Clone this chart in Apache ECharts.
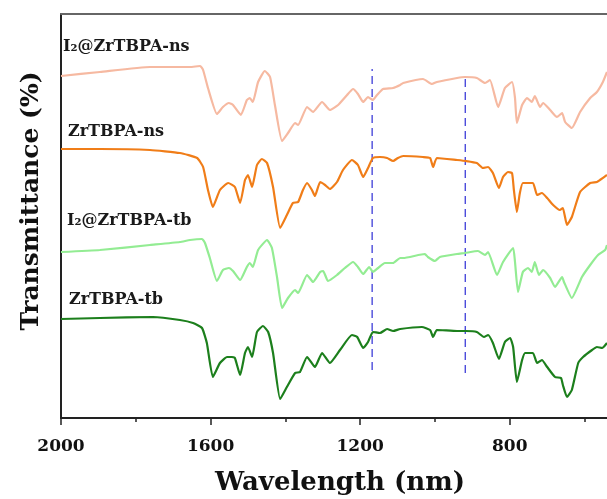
<!DOCTYPE html>
<html>
<head>
<meta charset="utf-8">
<script src="https://cdn.jsdelivr.net/npm/echarts@6/dist/echarts.min.js"></script>
<style>html,body{margin:0;padding:0;background:#fff}#c{width:607px;height:499px}</style>
</head>
<body>
<div id="c"></div>
<script>
// Wavenumber (axis labelled "Wavelength (nm)") vs. offset transmittance (arbitrary units)
const seriesNames = ['I\u2082@ZrTBPA-ns', 'ZrTBPA-ns', 'I\u2082@ZrTBPA-tb', 'ZrTBPA-tb'];
const seriesColors = ['#f6b9a1', '#f07d18', '#93ec93', '#1c7f1c'];

const i2ns = [[2000,342],[1896,346],[1762,351],[1655,351],[1628,352],[1620,348],[1607,330],[1583,304],[1567,311],[1551,315],[1540,313],[1519,303],[1503,318],[1495,320],[1487,316],[1473,336],[1455,347],[1441,341],[1428,313],[1409,277],[1393,285],[1374,295],[1366,293],[1342,311],[1326,306],[1302,316],[1281,308],[1259,313],[1235,323],[1219,329],[1206,324],[1192,316],[1179,321],[1166,318],[1155,323],[1139,329],[1112,330],[1093,333],[1085,335],[1032,339],[1008,334],[995,336],[941,340],[920,341],[888,340],[866,335],[853,338],[831,311],[813,330],[794,336],[786,320],[781,295],[767,313],[754,320],[741,316],[733,322],[719,311],[711,315],[692,308],[674,301],[660,305],[652,296],[634,290],[612,306],[585,320],[567,326],[551,336],[540,346]];

const zrns = [[2000,269],[1896,269],[1762,268],[1682,265],[1636,260],[1620,251],[1607,228],[1594,211],[1575,228],[1553,235],[1535,231],[1521,215],[1508,238],[1500,243],[1489,231],[1476,253],[1463,259],[1449,255],[1433,231],[1414,190],[1396,203],[1380,215],[1366,216],[1353,228],[1342,235],[1329,228],[1321,222],[1307,236],[1294,233],[1281,229],[1262,236],[1246,248],[1222,258],[1206,253],[1192,241],[1179,250],[1166,260],[1147,261],[1128,260],[1112,257],[1099,260],[1085,262],[1032,261],[1013,260],[1005,251],[995,260],[941,258],[917,257],[888,255],[872,250],[858,251],[845,245],[829,230],[818,241],[805,246],[794,245],[789,228],[781,206],[773,225],[765,235],[738,235],[727,223],[714,225],[700,220],[684,213],[666,208],[658,210],[647,193],[634,201],[612,226],[585,235],[567,236],[559,238],[540,243]];

const i2tb = [[2000,166],[1896,168],[1762,173],[1682,176],[1655,178],[1623,179],[1615,175],[1602,160],[1583,137],[1567,148],[1551,150],[1540,147],[1521,138],[1503,151],[1495,155],[1487,151],[1473,168],[1449,178],[1436,170],[1422,140],[1409,110],[1393,120],[1374,128],[1366,125],[1342,143],[1326,136],[1307,146],[1299,147],[1286,137],[1262,143],[1241,150],[1219,156],[1206,151],[1192,144],[1176,151],[1166,146],[1152,150],[1134,155],[1112,155],[1093,160],[1085,160],[1027,164],[1019,161],[1000,157],[987,161],[941,164],[920,165],[885,167],[866,163],[858,166],[834,143],[818,156],[791,170],[786,156],[778,126],[765,146],[751,150],[741,146],[733,156],[722,143],[711,148],[692,140],[679,131],[660,141],[655,136],[634,120],[607,141],[585,153],[564,163],[545,168],[540,173]];

const zrtb = [[2000,99],[1896,100],[1754,101],[1682,98],[1647,95],[1623,90],[1610,75],[1594,41],[1575,55],[1556,61],[1543,61],[1535,60],[1521,43],[1508,65],[1500,71],[1489,61],[1476,86],[1460,92],[1446,86],[1433,65],[1414,19],[1396,31],[1374,45],[1361,46],[1342,61],[1321,51],[1302,65],[1281,55],[1254,68],[1222,83],[1208,81],[1192,70],[1179,76],[1166,86],[1147,85],[1128,89],[1112,87],[1093,89],[1035,91],[1013,88],[1005,81],[995,88],[941,87],[917,87],[888,86],[869,81],[858,83],[845,75],[829,59],[813,76],[799,80],[791,71],[781,36],[767,58],[759,65],[738,65],[727,55],[714,58],[700,51],[679,41],[663,40],[658,33],[647,21],[634,28],[617,55],[604,61],[580,68],[567,71],[553,70],[540,75]];

// Vertical dashed guide lines: x position, [bottom, top]
const guideX = [1168, 919];
const guideY = [[48, 349], [45, 342]];

// Visible x range (plot is cropped at the right) and tick values
const xRange = [540, 2000];
const majorTicks = [800, 1200, 1600, 2000];
const minorTicks = [600, 1000, 1400, 1800];

const chart = echarts.init(document.getElementById('c'), null, {renderer: 'canvas'});
const font = 'DejaVu Serif';
const seriesData = [i2ns, zrns, i2tb, zrtb];
const series = seriesData.map((d, i) => ({
  name: seriesNames[i], type: 'line', data: d, showSymbol: false, smooth: 0.15,
  lineStyle: {color: seriesColors[i], width: 2.2}, itemStyle: {color: seriesColors[i]}, z: 3
}));
guideX.forEach((x, i) => {
  series.push({type: 'line', data: [[x, guideY[i][0]], [x, guideY[i][1]]], showSymbol: false,
    lineStyle: {color: '#3d3dd8', width: 1.3, type: [8, 5]}, z: 2});
});

const baseX = {type: 'value', inverse: true, min: xRange[0], max: xRange[1], splitLine: {show: false}};
chart.setOption({
  animation: false,
  grid: {left: 61, top: 14, bottom: 81, right: 0, show: false},
  xAxis: [
    Object.assign({}, baseX, {
      position: 'bottom',
      axisLine: {show: true, onZero: false, lineStyle: {color: '#222', width: 2}},
      axisTick: {show: true, length: 7, customValues: majorTicks, lineStyle: {color: '#222', width: 1.5}},
      axisLabel: {customValues: majorTicks, color: '#111', fontFamily: font, fontWeight: 'bold', fontSize: 17, margin: 20,
        formatter: v => String(v)}
    }),
    Object.assign({}, baseX, {
      position: 'bottom',
      axisLine: {show: false},
      axisTick: {show: true, length: 4, customValues: minorTicks, lineStyle: {color: '#222', width: 1.5}},
      axisLabel: {show: false}
    }),
    Object.assign({}, baseX, {
      position: 'top',
      axisLine: {show: true, onZero: false, lineStyle: {color: '#666', width: 2}},
      axisTick: {show: false}, axisLabel: {show: false}
    })
  ],
  yAxis: {
    type: 'value', min: 0, max: 404,
    axisLine: {show: true, onZero: false, lineStyle: {color: '#222', width: 2}},
    axisTick: {show: false}, axisLabel: {show: false}, splitLine: {show: false}
  },
  series: series,
  graphic: [
    {type: 'text', left: 63, top: 39, style: {text: seriesNames[0], font: 'bold 16px "DejaVu Serif"', fill: '#1a1a1a'}},
    {type: 'text', left: 68, top: 124, style: {text: seriesNames[1], font: 'bold 16px "DejaVu Serif"', fill: '#1a1a1a'}},
    {type: 'text', left: 67, top: 213, style: {text: seriesNames[2], font: 'bold 16px "DejaVu Serif"', fill: '#1a1a1a'}},
    {type: 'text', left: 69, top: 292, style: {text: seriesNames[3], font: 'bold 16px "DejaVu Serif"', fill: '#1a1a1a'}},
    {type: 'text', x: 340, y: 483, style: {text: 'Wavelength (nm)', font: 'bold 26px "DejaVu Serif"', fill: '#111', align: 'center', verticalAlign: 'middle'}},
    {type: 'text', x: 31, y: 201, rotation: Math.PI / 2, style: {text: 'Transmittance (%)', font: 'bold 25px "DejaVu Serif"', fill: '#111', align: 'center', verticalAlign: 'middle'}}
  ]
});
</script>
</body>
</html>
